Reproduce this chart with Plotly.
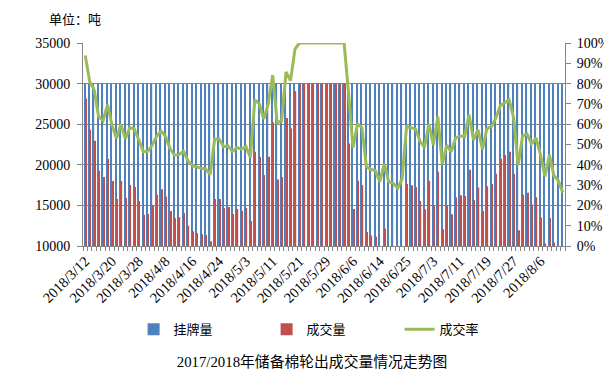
import plotly.graph_objects as go

dates = [
    "2018/3/12", "2018/3/13", "2018/3/14", "2018/3/15", "2018/3/16", "2018/3/19",
    "2018/3/20", "2018/3/21", "2018/3/22", "2018/3/23", "2018/3/26", "2018/3/27",
    "2018/3/28", "2018/3/29", "2018/3/30", "2018/4/2", "2018/4/3", "2018/4/4",
    "2018/4/8", "2018/4/9", "2018/4/10", "2018/4/11", "2018/4/12", "2018/4/13",
    "2018/4/16", "2018/4/17", "2018/4/18", "2018/4/19", "2018/4/20", "2018/4/23",
    "2018/4/24", "2018/4/25", "2018/4/26", "2018/4/27", "2018/4/28", "2018/5/2",
    "2018/5/3", "2018/5/4", "2018/5/7", "2018/5/8", "2018/5/9", "2018/5/10",
    "2018/5/11", "2018/5/14", "2018/5/15", "2018/5/16", "2018/5/17", "2018/5/18",
    "2018/5/21", "2018/5/22", "2018/5/23", "2018/5/24", "2018/5/25", "2018/5/28",
    "2018/5/29", "2018/5/30", "2018/5/31", "2018/6/1", "2018/6/4", "2018/6/5",
    "2018/6/6", "2018/6/7", "2018/6/8", "2018/6/11", "2018/6/12", "2018/6/13",
    "2018/6/14", "2018/6/15", "2018/6/19", "2018/6/20", "2018/6/21", "2018/6/22",
    "2018/6/25", "2018/6/26", "2018/6/27", "2018/6/28", "2018/6/29", "2018/7/2",
    "2018/7/3", "2018/7/4", "2018/7/5", "2018/7/6", "2018/7/9", "2018/7/10",
    "2018/7/11", "2018/7/12", "2018/7/13", "2018/7/16", "2018/7/17", "2018/7/18",
    "2018/7/19", "2018/7/20", "2018/7/23", "2018/7/24", "2018/7/25", "2018/7/26",
    "2018/7/27", "2018/7/30", "2018/7/31", "2018/8/1", "2018/8/2", "2018/8/3",
    "2018/8/6", "2018/8/7", "2018/8/8", "2018/8/9", "2018/8/10", "2018/8/13",
]

listed = [30000] * 108  # 挂牌量

traded = [  # 成交量
    28180, 24330, 22970, 19260, 18510, 20740, 18000, 15790, 18010, 15900,
    17520, 17270, 15540, 13850, 13930, 15000, 16300, 17000, 16100, 14300,
    13420, 13550, 14050, 12500, 11830, 11590, 11450, 11340, 10590, 15800,
    15800, 14680, 14790, 13940, 14560, 14310, 14690, 13080, 21600, 20950,
    18750, 21000, 25230, 18200, 18500, 25750, 24460, 29080, 30000, 30000,
    30000, 30000, 30000, 30000, 30000, 30000, 30000, 30000, 30000, 22620,
    14560, 18050, 17500, 11730, 11300, 11150, 9520, 12150, 9520, 9280,
    8540, 9900, 17650, 17480, 17280, 15540, 14540, 18030, 14930, 19150,
    12050, 14920, 13920, 16000, 16250, 16170, 19380, 15650, 17200, 14300,
    17350, 17650, 18900, 20740, 21200, 21600, 18900, 11950, 16300, 16550,
    15100, 16000, 13520, 10300, 13450, 10400, 9660, 7900,
]

rate = [  # 成交率 (%)
    93.9, 81.0, 77.0, 63.8, 61.7, 69.6, 59.5, 53.0, 60.0, 52.8,
    58.4, 57.6, 52.3, 46.5, 46.6, 49.6, 54.0, 56.6, 54.0, 48.0,
    44.7, 45.0, 46.7, 42.0, 39.6, 38.8, 38.3, 37.9, 35.3, 52.7,
    52.7, 49.0, 49.3, 46.5, 48.5, 47.7, 49.0, 43.6, 72.0, 70.0,
    62.5, 70.0, 84.2, 60.7, 61.7, 85.8, 81.5, 97.0, 100, 100,
    100, 100, 100, 100, 100, 100, 100, 100, 100, 75.4,
    48.5, 60.2, 58.3, 39.1, 37.7, 37.2, 31.7, 40.5, 31.7, 30.9,
    28.5, 33.0, 58.8, 58.3, 57.6, 51.8, 48.5, 60.1, 49.8, 63.8,
    40.2, 49.7, 46.4, 53.3, 54.2, 53.9, 64.6, 52.2, 57.3, 47.7,
    57.8, 58.8, 63.0, 69.1, 70.7, 72.0, 63.0, 39.8, 54.3, 55.2,
    50.3, 53.3, 45.0, 34.3, 44.8, 34.7, 32.2, 26.3,
]

tick_every = 6
tick_text = [d if i % tick_every == 0 else "" for i, d in enumerate(dates)]

serif = "Liberation Serif, Noto Sans CJK SC, serif"
cjk = "Noto Sans CJK SC, sans-serif"
grid = "#868686"

# the page body has an 8px default margin, so the figure is 8px smaller
W, H = 604, 380

fig = go.Figure()
fig.add_trace(go.Bar(x=dates, y=listed, name="挂牌量", marker_color="#4F81BD",
                     marker_line_width=0))
fig.add_trace(go.Bar(x=dates, y=traded, name="成交量", marker_color="#C0504D",
                     marker_line_width=0))
fig.add_trace(go.Scatter(x=dates, y=[r / 100 for r in rate], name="成交率",
                         mode="lines", yaxis="y2",
                         line=dict(color="#9BBB59", width=3)))

fig.update_layout(
    width=W, height=H,
    margin=dict(l=75, r=47, t=35, b=142, autoexpand=False),
    paper_bgcolor="white", plot_bgcolor="white",
    barmode="group", bargap=0.45, bargroupgap=0,
    font=dict(family=serif, size=13.5, color="black"),
    xaxis=dict(
        type="category", tickson="boundaries", automargin=False,
        tickmode="array", tickvals=dates, ticktext=tick_text,
        tickangle=-45, ticks="outside", ticklen=4, tickcolor=grid,
        showline=True, linecolor=grid, linewidth=1,
        showgrid=False, tickfont=dict(family=serif, size=14.5),
        range=[-0.5, len(dates) - 0.5],
    ),
    yaxis=dict(
        range=[10000, 35000], dtick=5000, tickformat="d", automargin=False,
        showgrid=True, gridcolor=grid, gridwidth=1,
        showline=True, linecolor=grid, linewidth=1,
        ticks="outside", ticklen=5, tickcolor=grid,
        zeroline=False, tickfont=dict(family=serif, size=14),
        ticklabelstandoff=4,
    ),
    yaxis2=dict(
        overlaying="y", side="right", range=[0, 1], dtick=0.1, automargin=False,
        tickformat=".0%", showgrid=False,
        showline=True, linecolor=grid, linewidth=1,
        ticks="outside", ticklen=5, tickcolor=grid,
        zeroline=False, tickfont=dict(family=serif, size=14),
        ticklabelstandoff=3,
    ),
    legend=dict(
        orientation="h", x=0.105, xanchor="left", y=-0.41, yanchor="middle",
        font=dict(family=cjk, size=13), entrywidthmode="pixels", entrywidth=88,
        bgcolor="rgba(0,0,0,0)",
    ),
    title=dict(
        text="2017/2018年储备棉轮出成交量情况走势图",
        x=304 / W, xanchor="center", y=1 - 354 / H, yanchor="middle",
        yref="container", xref="container",
        font=dict(family=serif, size=14.8, color="black"),
    ),
    annotations=[dict(
        text="单位：吨", xref="paper", yref="paper",
        x=(47 - 83) / 482, y=(246 - 18) / 203, xanchor="left", yanchor="middle",
        showarrow=False, font=dict(family=cjk, size=13, color="black"),
    )],
)

fig.write_html("out.html")
